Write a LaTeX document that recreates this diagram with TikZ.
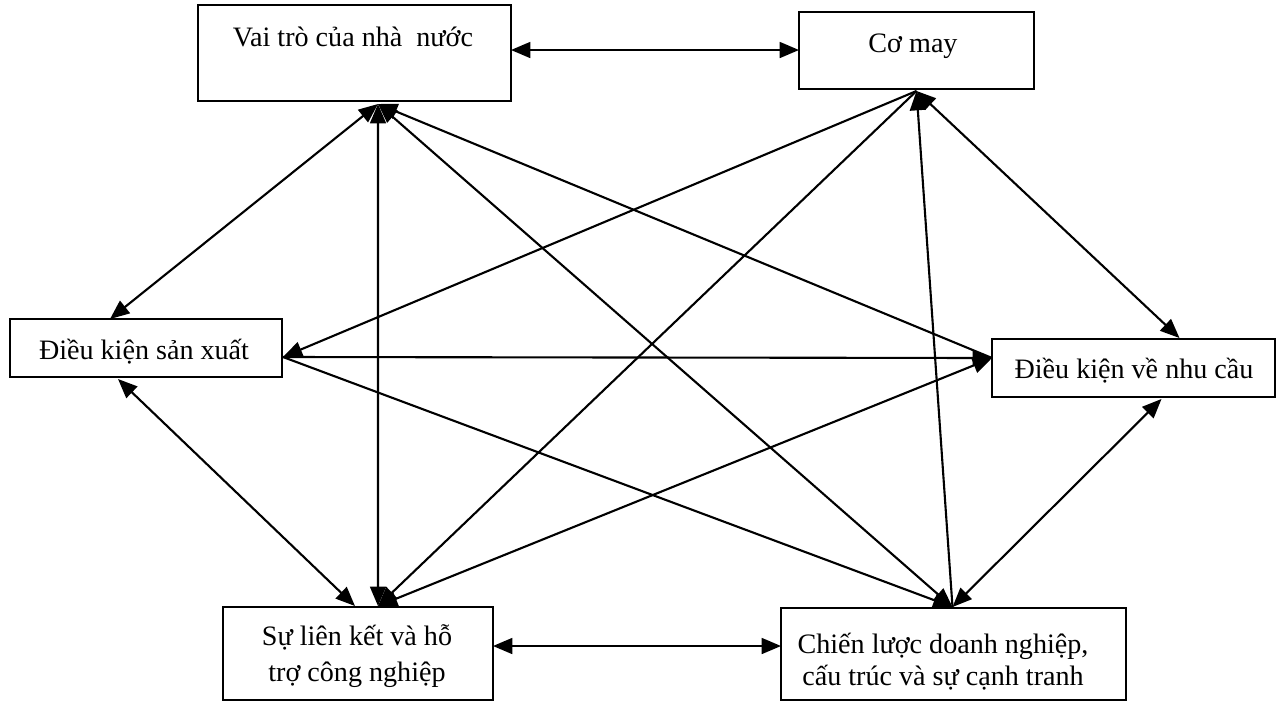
\documentclass[tikz,border=0pt]{standalone}
\usepackage{fontspec}
\setmainfont{Liberation Serif}
\usetikzlibrary{arrows.meta,calc}
\tikzset{
  box/.style={draw=black, line width=1.2pt, rectangle, inner sep=0pt, outer sep=0pt},
  txt/.style={inner sep=0pt, font=\fontsize{16}{19.2}\selectfont},
  conn/.style={line width=1.2pt, draw=black},
  both/.style={conn, {Triangle[length=11pt,width=9pt]}-{Triangle[length=11pt,width=9pt]}},
  tohead/.style={conn, -{Triangle[length=11pt,width=9pt]}}
}
\begin{document}
\begin{tikzpicture}[x=0.02cm, y=-0.02cm]
\useasboundingbox (0,0) rectangle (1285,704);
\fill[white] (0,0) rectangle (1285,704);
% boxes
\node[box, minimum width=6.26cm, minimum height=1.92cm] (vai) at (354.5,53) {};
\node[box, minimum width=4.70cm, minimum height=1.54cm] (co) at (916.5,50.5) {};
\node[box, minimum width=5.44cm, minimum height=1.16cm] (dksx) at (146,348) {};
\node[box, minimum width=5.66cm, minimum height=1.16cm] (dknc) at (1133.5,368) {};
\node[box, minimum width=5.40cm, minimum height=1.86cm] (slk) at (358,653.5) {};
\node[box, minimum width=6.90cm, minimum height=1.84cm] (cl) at (953.5,654) {};
% texts
\node[txt, anchor=base] (tvai) at (353,46.5) {Vai trò của nhà\ \ nước};
\node[txt, anchor=base] (tco) at (913,52) {Cơ may};
\node[txt, anchor=base] (tdksx) at (144,359) {Điều kiện sản xuất};
\node[txt, anchor=base] (tdknc) at (1134,378) {Điều kiện về nhu cầu};
\node[txt, anchor=base] (tslk) at (357,645) {\begin{tabular}[t]{@{}c@{}}Sự liên kết và hỗ\\[1.8pt] trợ công nghiệp\end{tabular}};
\node[txt, anchor=base] (tcl) at (943,653) {\begin{tabular}[t]{@{}c@{}}Chiến lược doanh nghiệp,\\[-0.9pt] cấu trúc và sự cạnh tranh\end{tabular}};
% anchor points
\coordinate (vaiE) at ($(vai.east)+(0,-3)$);
\coordinate (slkE) at ($(slk.east)+(0,-7.5)$);
\coordinate (vaiB) at ($(vai.south)+(23.5,3)$);
\coordinate (dksxT) at ($(dksx.north)+(-36,0)$);
\coordinate (dksxR) at ($(dksx.east)+(1,9)$);
\coordinate (dksxB) at ($(dksx.south)+(-28,2)$);
\coordinate (coB) at ($(co.south)+(0,2)$);
\coordinate (dkncL) at ($(dknc.west)+(0,-10)$);
\coordinate (dkncT) at ($(dknc.north)+(46,-1)$);
\coordinate (dkncB) at ($(dknc.south)+(28,2)$);
\coordinate (slkT1) at ($(slk.north)+(-3,-1)$);
\coordinate (slkT2) at ($(slk.north)+(20,-1)$);
\coordinate (clT) at ($(cl.north)+(-1,-1)$);
% connectors
\draw[both] (vaiE) -- (vaiE -| co.west);
\draw[both] (slkE) -- (slkE -| cl.west);
\draw[both] (vaiB) -- (dksxT);
\draw[both] (vaiB) -- (slkT2);
\draw[both] (vaiB) -- (clT);
\draw[tohead] (dkncL) -- (vaiB);
\draw[tohead] (coB) -- (dksxR);
\draw[tohead] (coB) -- (slkT2);
\draw[tohead] (clT) -- (coB);
\draw[both] (coB) -- (dkncT);
\draw[tohead] (dksxR) -- (dkncL);
\draw[tohead] (dksxR) -- (clT);
\draw[both] (dksxB) -- (slkT1);
\draw[both] (slkT2) -- (dkncL);
\draw[both] (clT) -- (dkncB);
\end{tikzpicture}
\end{document}
